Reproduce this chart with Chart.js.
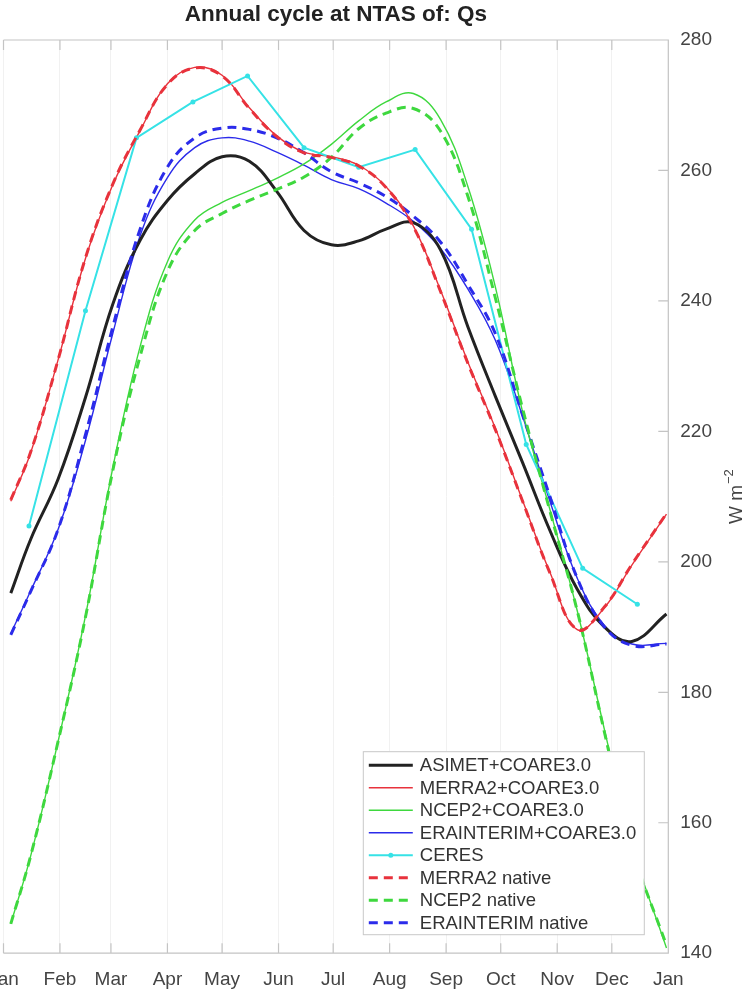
<!DOCTYPE html>
<html>
<head>
<meta charset="utf-8">
<script src="https://cdn.jsdelivr.net/npm/chart.js@4.4.0/dist/chart.umd.min.js"></script>
<style>
  html, body { margin: 0; padding: 0; background: #fff; }
  #wrap { position: relative; width: 753px; height: 994px; overflow: hidden; }
  #box { position: absolute; left: -30px; top: 0; width: 783px; height: 1010px; }
</style>
</head>
<body>
<div id="wrap"><div id="box"><canvas id="qsChart"></canvas></div></div>
<script>
// month axis (day of year) and value ticks
const monthTicks = [0, 31, 59, 90, 120, 151, 181, 212, 243, 273, 304, 334, 365];
const monthLabels = ['Jan', 'Feb', 'Mar', 'Apr', 'May', 'Jun', 'Jul', 'Aug', 'Sep', 'Oct', 'Nov', 'Dec', 'Jan'];
const yTicks = [140, 160, 180, 200, 220, 240, 260, 280];

// smoothed climatologies, read every ~15 days
const days = [4, 15, 30, 45, 60, 75, 90, 105, 120, 135, 150, 165, 180, 195, 210, 225, 240, 255, 270, 285, 300, 315, 330, 345, 364];
const asimet       = [195.2, 203.5, 212.7, 225.2, 239.5, 249.3, 255.4, 259.5, 262.1, 261.4, 256.8, 250.8, 248.6, 249.2, 251.0, 252.0, 247.8, 236.0, 225.4, 215.2, 204.8, 195.8, 190.0, 187.8, 192.0];
const merra2       = [209.3, 216.8, 231.0, 246.5, 257.8, 266.1, 273.3, 275.8, 274.6, 269.6, 265.3, 262.8, 262.1, 260.8, 257.5, 251.5, 241.6, 230.6, 220.5, 209.4, 198.4, 189.6, 193.0, 199.5, 207.3];
const ncep2        = [144.5, 155.0, 172.5, 191.7, 214.4, 233.0, 246.0, 252.4, 255.1, 256.9, 258.8, 261.0, 264.0, 267.6, 270.5, 271.8, 267.8, 257.5, 242.2, 223.0, 208.0, 192.5, 174.2, 156.6, 140.8];
const erainterim   = [189.0, 195.6, 205.0, 218.6, 235.0, 250.0, 258.9, 263.5, 265.0, 264.5, 262.8, 260.8, 258.6, 257.2, 255.0, 252.2, 248.0, 241.8, 234.0, 222.3, 209.3, 197.5, 190.2, 187.4, 187.5];
const merra2Native = [209.5, 216.9, 231.0, 246.6, 257.9, 266.2, 273.2, 275.7, 274.5, 269.5, 265.2, 262.7, 262.0, 260.7, 257.4, 251.4, 241.4, 230.4, 220.3, 209.3, 198.3, 189.6, 193.1, 199.6, 207.4];
const ncep2Native  = [144.5, 155.0, 172.5, 191.5, 214.0, 231.5, 244.5, 250.8, 253.4, 255.4, 257.1, 259.0, 262.0, 266.4, 268.8, 269.5, 266.0, 256.0, 240.5, 223.5, 207.8, 192.5, 173.8, 156.2, 141.2];
const eraNative    = [188.8, 195.5, 205.0, 219.5, 236.0, 251.0, 260.5, 265.0, 266.5, 266.3, 265.0, 262.7, 259.8, 258.1, 256.0, 253.0, 249.0, 242.5, 235.0, 222.5, 210.0, 197.5, 190.0, 187.2, 187.4];

// CERES monthly values at mid-month
const ceresDays = [14, 45, 73, 104, 134, 165, 195, 226, 257, 287, 318, 348];
const ceres     = [205.5, 238.5, 265.0, 270.5, 274.5, 263.5, 260.5, 263.2, 251.0, 218.0, 199.0, 193.5];

const RED = '#e8323c', GREEN = '#3ed83e', BLUE = '#2b2bea', CYAN = '#36e2e6', BLACK = '#222222';
const FONT = 'Arial, "Liberation Sans", Helvetica, sans-serif';

function pts(xs, ys) {
  return xs.map((x, i) => ({ x: x, y: ys[i] }));
}

function line(label, xs, ys, color, width, extra) {
  return Object.assign({
    label: label,
    data: pts(xs, ys),
    borderColor: color,
    backgroundColor: color,
    borderWidth: width,
    pointRadius: 0,
    fill: false,
    tension: 0.4
  }, extra || {});
}

const datasets = [
  line('ASIMET+COARE3.0', days, asimet, BLACK, 3, { order: 2 }),
  line('MERRA2+COARE3.0', days, merra2, RED, 1.4, { order: 3 }),
  line('NCEP2+COARE3.0', days, ncep2, GREEN, 1.4, { order: 3 }),
  line('ERAINTERIM+COARE3.0', days, erainterim, BLUE, 1.4, { order: 3 }),
  line('CERES', ceresDays, ceres, CYAN, 2, { order: 1, tension: 0, pointRadius: 2.5, pointBackgroundColor: CYAN, pointBorderWidth: 0 }),
  line('MERRA2 native', days, merra2Native, RED, 3, { order: 0, borderDash: [9, 6] }),
  line('NCEP2 native', days, ncep2Native, GREEN, 3, { order: 0, borderDash: [9, 6] }),
  line('ERAINTERIM native', days, eraNative, BLUE, 3, { order: 0, borderDash: [9, 6] })
];

// box, inward ticks, y label and the legend, drawn matlab style
const frame = {
  id: 'frame',
  afterDraw(chart) {
    const { ctx, chartArea: a, scales: { x, y } } = chart;
    ctx.save();
    ctx.strokeStyle = '#c4c4c4';
    ctx.lineWidth = 1.2;
    ctx.beginPath();
    ctx.moveTo(a.left, a.top); ctx.lineTo(a.right, a.top);
    ctx.lineTo(a.right, a.bottom); ctx.lineTo(a.left, a.bottom);
    monthTicks.forEach(d => {
      const px = x.getPixelForValue(d);
      ctx.moveTo(px, a.bottom); ctx.lineTo(px, a.bottom - 10);
      ctx.moveTo(px, a.top); ctx.lineTo(px, a.top + 10);
    });
    yTicks.forEach(v => {
      const py = y.getPixelForValue(v);
      ctx.moveTo(a.right, py); ctx.lineTo(a.right - 10, py);
    });
    ctx.stroke();

    // y axis label W m^-2, reading upwards
    ctx.save();
    ctx.translate(767, (a.top + a.bottom) / 2);
    ctx.rotate(-Math.PI / 2);
    ctx.fillStyle = '#444';
    ctx.textBaseline = 'middle';
    ctx.font = '19px ' + FONT;
    const main = 'W m';
    const w1 = ctx.measureText(main).width;
    ctx.font = '13px ' + FONT;
    const w2 = ctx.measureText('\u22122').width;
    let sx = -(w1 + w2 + 1) / 2;
    ctx.font = '19px ' + FONT;
    ctx.fillText(main, sx, 0);
    ctx.font = '13px ' + FONT;
    ctx.fillText('\u22122', sx + w1 + 1, -8);
    ctx.restore();

    // legend
    const bw = 281, bh = 183;
    const left = a.right - 24.5 - bw, top = a.bottom - 19 - bh;
    ctx.fillStyle = '#fff';
    ctx.fillRect(left, top, bw, bh);
    ctx.strokeStyle = '#c8c8c8';
    ctx.lineWidth = 1;
    ctx.strokeRect(left + 0.5, top + 0.5, bw, bh);
    ctx.font = '18.5px ' + FONT;
    ctx.textBaseline = 'middle';
    chart.data.datasets.forEach((ds, i) => {
      const ry = top + 14 + i * 22.5;
      ctx.save();
      ctx.strokeStyle = ds.borderColor;
      ctx.lineWidth = ds.borderWidth;
      ctx.setLineDash(ds.borderDash || []);
      ctx.beginPath();
      ctx.moveTo(left + 6, ry);
      ctx.lineTo(left + 50, ry);
      ctx.stroke();
      if (ds.pointRadius > 0) {
        ctx.fillStyle = ds.borderColor;
        ctx.beginPath();
        ctx.arc(left + 28, ry, 2.5, 0, Math.PI * 2);
        ctx.fill();
      }
      ctx.restore();
      ctx.fillStyle = '#333';
      ctx.fillText(ds.label, left + 57, ry + 1);
    });
    ctx.restore();
  }
};

Chart.defaults.font.family = FONT;

new Chart(document.getElementById('qsChart'), {
  type: 'line',
  data: { datasets: datasets },
  plugins: [frame],
  options: {
    responsive: true,
    maintainAspectRatio: false,
    animation: false,
    layout: { padding: { left: 33.5, right: 29, top: 0, bottom: 4 } },
    plugins: {
      legend: { display: false },
      tooltip: { enabled: false },
      title: {
        display: true,
        fullSize: false,
        text: 'Annual cycle at NTAS of: Qs',
        color: '#222',
        font: { size: 22.5, weight: 'bold' },
        padding: { top: 1, bottom: 12 }
      }
    },
    scales: {
      x: {
        type: 'linear',
        min: 0,
        max: 365,
        afterBuildTicks: scale => { scale.ticks = monthTicks.map(v => ({ value: v })); },
        ticks: {
          autoSkip: false,
          maxRotation: 0,
          padding: 15,
          color: '#444',
          font: { size: 19 },
          callback: (v, i) => monthLabels[i]
        },
        grid: { color: '#f1f1f1', drawTicks: false },
        border: { display: false }
      },
      y: {
        position: 'right',
        min: 140,
        max: 280,
        ticks: { stepSize: 20, padding: 12, color: '#444', font: { size: 19 } },
        grid: { display: false, drawTicks: false },
        border: { display: false }
      }
    }
  }
});
</script>
</body>
</html>
